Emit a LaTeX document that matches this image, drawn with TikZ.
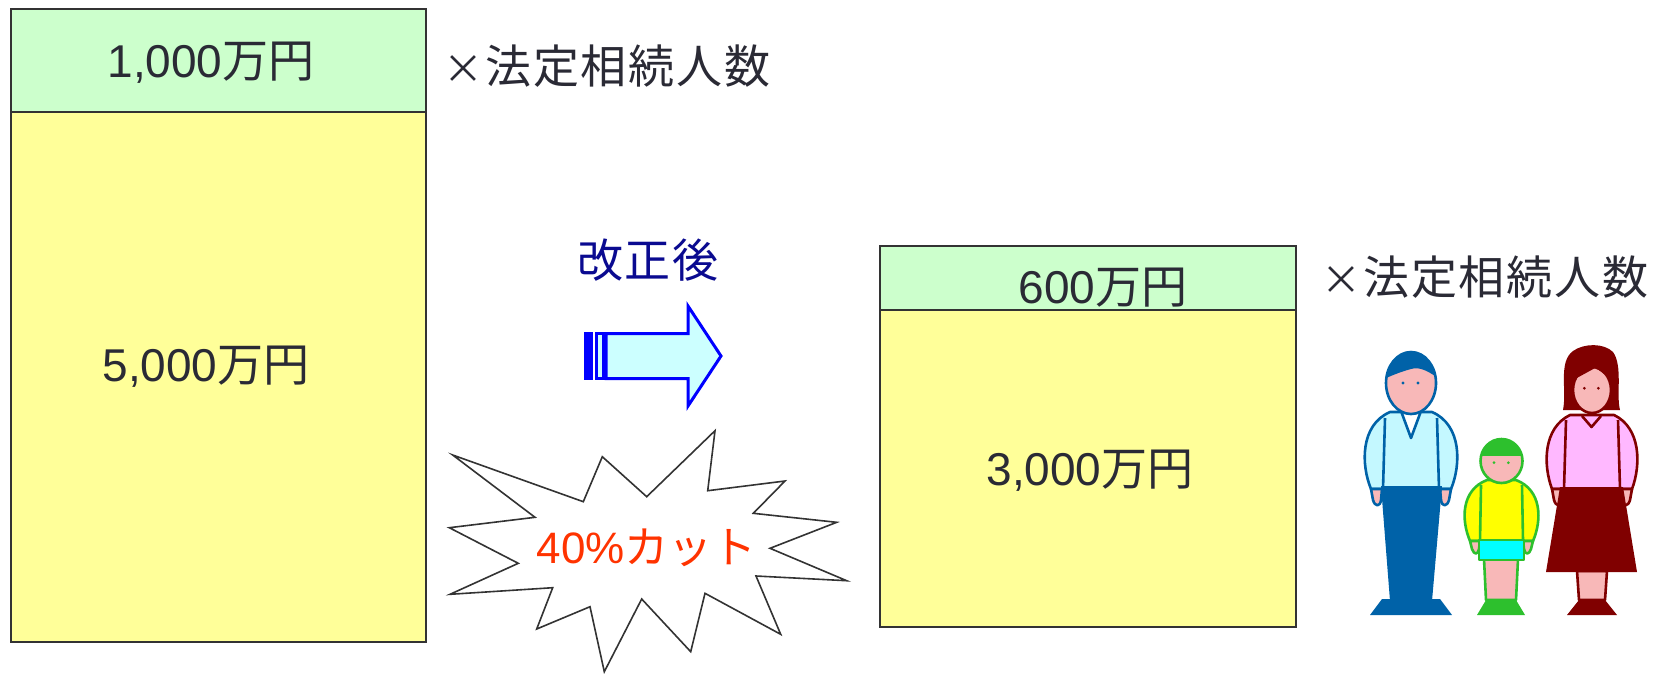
\documentclass[tikz,border=0pt]{standalone}
\usepackage{fontspec}
\setmainfont{Noto Sans CJK JP}
\newfontfamily\latinfont{Liberation Sans}
\newfontfamily\kanjifont[LetterSpace=4]{Noto Sans CJK JP}
\definecolor{boxline}{HTML}{333333}
\definecolor{ink}{HTML}{2A2A35}
\definecolor{basegreen}{HTML}{CCFFCC}
\definecolor{baseyellow}{HTML}{FFFF99}
\definecolor{arrowblue}{HTML}{0000FF}
\definecolor{arrowfill}{HTML}{CCFFFF}
\definecolor{navytext}{HTML}{0A0A90}
\definecolor{cutred}{HTML}{FF3300}
\definecolor{skin}{HTML}{F8B8B8}
\definecolor{manblue}{HTML}{0062A8}
\definecolor{manshirt}{HTML}{C4F8FF}
\definecolor{kidgreen}{HTML}{2DC02D}
\definecolor{kidshirt}{HTML}{FFFF00}
\definecolor{kidshorts}{HTML}{00FFFF}
\definecolor{womanred}{HTML}{800000}
\definecolor{womanshirt}{HTML}{FFB8FF}
\newcommand{\timesmark}{{\fontsize{40}{46}\selectfont ×}\hspace{2pt}}
\begin{document}
\begin{tikzpicture}[x=1pt,y=-1pt,
  plate/.style={draw=boxline, line width=2pt, inner sep=0pt},
  txt/.style={font=\fontsize{46}{52}\selectfont, text=ink, inner sep=0pt},
  arrowline/.style={draw=arrowblue, line width=3pt, line join=miter},
  burst/.style={draw=boxline, line width=1.6pt, line join=miter, fill=white},
  manline/.style={draw=manblue, line width=2.6pt, line join=round},
  kidline/.style={draw=kidgreen, line width=2.6pt, line join=round},
  womanline/.style={draw=womanred, line width=2.6pt, line join=round},
]
\useasboundingbox (0,0) rectangle (1659,673);

% ---- current exemption: 5,000 + 1,000 per heir
\node[plate, fill=basegreen, minimum width=415pt, minimum height=103.5pt] (oldper) at (218.3,60.3) {};
\node[plate, fill=baseyellow, minimum width=415pt, minimum height=530pt] (oldbase) at (218.3,377) {};
\node[txt] (oldpertext) at (211,63) {{\latinfont 1,000}万円};
\node[txt] (oldbasetext) at (206,367) {{\latinfont 5,000}万円};
\node[txt, anchor=west] (oldmult) at (443,66) {\timesmark{\kanjifont 法定相続人数}};

% ---- revision arrow
\node[txt, text=navytext] (revised) at (648,260) {\kanjifont 改正後};
\draw[arrowline, fill=arrowblue] (585.5,333.5) rectangle (591,378.5);
\draw[arrowline, fill=arrowfill] (596,333.5) rectangle (603,378.5);
\draw[arrowline, fill=arrowfill] (606,333.5) -- (688,333.5) -- (688,306) -- (721,356)
  -- (688,406) -- (688,378.5) -- (606,378.5) -- cycle;

% ---- burst with the cut rate
\draw[burst] (452.7,455) -- (583.3,501.7) -- (602.3,456.7) -- (646.7,496.7)
  -- (715,430.7) -- (707.7,490.7) -- (785,481) -- (753.3,513.3) -- (836.7,522.3)
  -- (770,548.3) -- (846.7,580.7) -- (756,576) -- (780.7,634.3) -- (705,593.3)
  -- (690.7,651.7) -- (641.7,599) -- (604.3,671.7) -- (590,606.7) -- (536.7,629)
  -- (552.7,587.7) -- (450,594.3) -- (518.3,563.3) -- (449.3,527.7) -- (535,517.3)
  -- cycle;
\node[txt, text=cutred, font=\fontsize{44}{50}\selectfont] (cut) at (646.7,548) {{\latinfont 40\%}カット};

% ---- revised exemption: 3,000 + 600 per heir
\node[plate, fill=basegreen, minimum width=416pt, minimum height=64pt] (newper) at (1088,278) {};
\node[plate, fill=baseyellow, minimum width=416pt, minimum height=317pt] (newbase) at (1088,468.5) {};
\node[txt] (newpertext) at (1103,288) {{\latinfont 600}万円};
\node[txt] (newbasetext) at (1090,471) {{\latinfont 3,000}万円};
\node[txt, anchor=west] (newmult) at (1321,277) {\timesmark{\kanjifont 法定相続人数}};

% ---- father
\fill[manblue] (1370,615) -- (1452,615) -- (1440,599) -- (1382,599) -- cycle;
\draw[manline, fill=manshirt] (1371,489) .. controls (1361,465) and (1360,425) .. (1390,412)
  -- (1432,412) .. controls (1462,425) and (1461,465) .. (1451,489) -- cycle;
\draw[manline, fill=skin] (1371,489) -- (1382,489) -- (1381,500) .. controls (1380,507) and (1375,507) .. (1373,500) -- cycle;
\draw[manline, fill=skin] (1451,489) -- (1440,489) -- (1441,500) .. controls (1442,507) and (1447,507) .. (1449,500) -- cycle;
\draw[manline] (1385,418) -- (1383,489);
\draw[manline] (1437,418) -- (1439,489);
\fill[manblue] (1381,486) -- (1442,486) -- (1432,601) -- (1390,601) -- cycle;
\draw[manline, fill=white] (1401,411) -- (1411,438) -- (1421,411) -- cycle;
\fill[skin] (1411,383) ellipse [x radius=25, y radius=31];
\begin{scope}
  \clip (1411,383) ellipse [x radius=25, y radius=31];
  \fill[manblue] (1380,345) -- (1442,345) -- (1442,381)
    .. controls (1430,372) and (1420,366) .. (1411,369)
    .. controls (1400,372) and (1390,376) .. (1380,381) -- cycle;
\end{scope}
\draw[manline] (1411,383) ellipse [x radius=25, y radius=31];
\fill[manblue] (1403,383) circle (1.6) (1418,383) circle (1.6);

% ---- child
\fill[kidgreen] (1477,615) -- (1525,615) -- (1516,600) -- (1486,600) -- cycle;
\draw[kidline, fill=skin] (1484,559) -- (1518,559) -- (1516,600) -- (1486,600) -- cycle;
\draw[kidline, fill=kidshirt] (1470,541) .. controls (1461,520) and (1461,490) .. (1487,480)
  -- (1516,480) .. controls (1542,490) and (1542,520) .. (1533,541) -- cycle;
\draw[kidline, fill=skin] (1470,541) -- (1480,541) -- (1479,549) .. controls (1478,555) and (1474,555) .. (1472,549) -- cycle;
\draw[kidline, fill=skin] (1533,541) -- (1523,541) -- (1524,549) .. controls (1525,555) and (1529,555) .. (1531,549) -- cycle;
\draw[kidline] (1481,485) -- (1480,541);
\draw[kidline] (1522,485) -- (1523,541);
\draw[kidline, fill=kidshorts] (1479,540) rectangle (1524,560);
\fill[skin] (1501.5,461) ellipse [x radius=21, y radius=22];
\begin{scope}
  \clip (1501.5,461) ellipse [x radius=21, y radius=22];
  \fill[kidgreen] (1478,436) rectangle (1525,455.5);
\end{scope}
\draw[kidline] (1501.5,461) ellipse [x radius=21, y radius=22];
\fill[kidgreen] (1494,462.7) circle (1.5) (1508.3,462.7) circle (1.5);

% ---- mother
\fill[womanred] (1567,615) -- (1617,615) -- (1605,600) -- (1579,600) -- cycle;
\draw[womanline, fill=skin] (1577,571) -- (1607,571) -- (1605,600) -- (1579,600) -- cycle;
\fill[womanred] (1563,410) .. controls (1567,390) and (1558,362) .. (1573,351)
  .. controls (1584,343) and (1604,343) .. (1613,352)
  .. controls (1623,366) and (1616,395) .. (1620,410) -- cycle;
\draw[womanline, fill=womanshirt] (1552,489) .. controls (1543,465) and (1543,428) .. (1570,415)
  -- (1614,415) .. controls (1641,428) and (1641,465) .. (1632,489) -- cycle;
\draw[womanline, fill=skin] (1552,489) -- (1563,489) -- (1562,500) .. controls (1561,507) and (1556,507) .. (1554,500) -- cycle;
\draw[womanline, fill=skin] (1632,489) -- (1621,489) -- (1622,500) .. controls (1623,507) and (1628,507) .. (1630,500) -- cycle;
\draw[womanline] (1566,420) -- (1564,489);
\draw[womanline] (1618,420) -- (1620,489);
\fill[womanred] (1560,487) -- (1623,487) -- (1637,572) -- (1546,572) -- cycle;
\draw[womanline] (1582,416) -- (1591.5,427) -- (1601,416);
\fill[skin] (1592,390) ellipse [x radius=19, y radius=23];
\begin{scope}
  \clip (1592,390) ellipse [x radius=19, y radius=23];
  \fill[womanred] (1570,360) -- (1614,360) -- (1614,382)
    .. controls (1606,376) and (1600,370) .. (1595,368)
    .. controls (1588,372) and (1580,376) .. (1570,382) -- cycle;
\end{scope}
\draw[womanline] (1592,390) ellipse [x radius=19, y radius=23];
\fill[womanred] (1584.3,388.3) circle (1.5) (1598.3,388.3) circle (1.5);
\end{tikzpicture}
\end{document}
